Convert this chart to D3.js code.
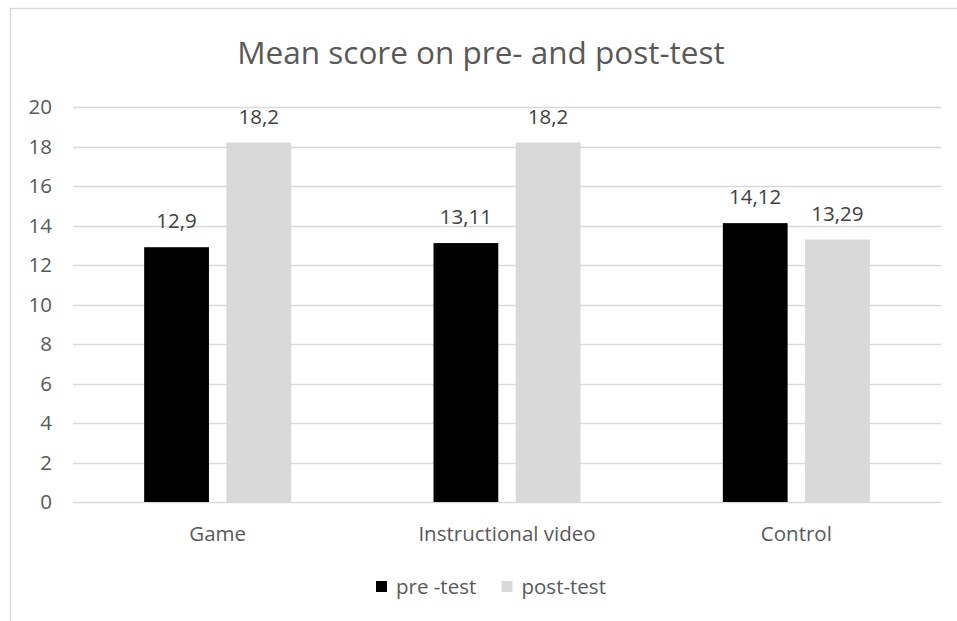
<!DOCTYPE html>
<html>
<head>
<meta charset="utf-8">
<script src="https://cdn.jsdelivr.net/npm/d3@7"></script>
<style>
  html, body { margin: 0; padding: 0; background: #fff; }
  svg { display: block; }
  text { font-family: "Open Sans", "Noto Sans", sans-serif; }
</style>
</head>
<body>
<svg id="chart" width="957" height="621"></svg>
<script>
// Data
const categories = ["Game", "Instructional video", "Control"];
const seriesNames = ["pre -test", "post-test"];
const preTest = [12.9, 13.11, 14.12];
const postTest = [18.2, 18.2, 13.29];
const yTicks = [0, 2, 4, 6, 8, 10, 12, 14, 16, 18, 20];
const titleText = "Mean score on pre- and post-test";

const seriesColors = ["#000000", "#d9d9d9"];
const gridColor = "#d9d9d9";
const labelSize = "20.5px";

const svg = d3.select("#chart");
const W = 957, H = 621;

// chart frame (runs off the right and bottom edges)
svg.append("rect")
  .attr("x", 10.5).attr("y", 8.5)
  .attr("width", W + 20).attr("height", H + 20)
  .attr("fill", "#fff")
  .attr("stroke", "#d9d9d9")
  .attr("stroke-width", 1.5);

const plot = { left: 73, right: 941, top: 107, bottom: 502 };

const y = d3.scaleLinear().domain([0, 20]).range([plot.bottom, plot.top]);
const x0 = d3.scaleBand().domain(categories).range([plot.left, plot.right]).padding(0);
const groupW = x0.bandwidth() * 0.508;
const x1 = d3.scaleBand().domain(seriesNames).range([0, groupW]).paddingInner(0.212).paddingOuter(0);

// gridlines
svg.append("g")
  .selectAll("line")
  .data(yTicks)
  .join("line")
  .attr("x1", plot.left).attr("x2", plot.right)
  .attr("y1", d => Math.round(y(d)) + 0.5)
  .attr("y2", d => Math.round(y(d)) + 0.5)
  .attr("stroke", gridColor)
  .attr("stroke-width", 1.5);

// y axis labels
const yAxis = d3.axisLeft(y).tickValues(yTicks).tickSize(0).tickPadding(0);
const yg = svg.append("g")
  .attr("transform", `translate(${plot.left - 21},0)`)
  .call(yAxis);
yg.select(".domain").remove();
yg.selectAll("text")
  .attr("fill", "#595959")
  .style("font-size", labelSize)
  .style("font-family", "'Open Sans', sans-serif");

// x axis labels
const xAxis = d3.axisBottom(x0).tickSize(0).tickPadding(0);
const xg = svg.append("g")
  .attr("transform", `translate(0,${plot.bottom + 24})`)
  .call(xAxis);
xg.select(".domain").remove();
xg.selectAll("text")
  .attr("fill", "#595959")
  .attr("dy", "0.71em")
  .style("font-size", labelSize)
  .style("font-family", "'Open Sans', sans-serif");

// bars
const rows = categories.map((c, i) => ({ cat: c, values: [preTest[i], postTest[i]] }));
const groups = svg.append("g")
  .selectAll("g")
  .data(rows)
  .join("g")
  .attr("transform", d => `translate(${x0(d.cat) + (x0.bandwidth() - groupW) / 2},0)`);

groups.selectAll("rect")
  .data(d => d.values.map((v, j) => ({ name: seriesNames[j], v, j })))
  .join("rect")
  .attr("x", d => x1(d.name))
  .attr("width", x1.bandwidth())
  .attr("y", d => y(d.v))
  .attr("height", d => y(0) - y(d.v))
  .attr("fill", d => seriesColors[d.j]);

// value labels
const fmt = v => String(v).replace(".", ",");
groups.selectAll("text.val")
  .data(d => d.values.map((v, j) => ({ name: seriesNames[j], v, j })))
  .join("text")
  .attr("class", "val")
  .attr("x", d => x1(d.name) + x1.bandwidth() / 2)
  .attr("y", d => y(d.v) - 19)
  .attr("text-anchor", "middle")
  .attr("fill", "#404040")
  .style("font-size", labelSize)
  .text(d => fmt(d.v));

// title
svg.append("text")
  .attr("x", 481)
  .attr("y", 64)
  .attr("text-anchor", "middle")
  .attr("fill", "#595959")
  .style("font-size", "31.5px")
  .text(titleText);

// legend
const legendItems = [
  { name: seriesNames[0], color: seriesColors[0], x: 376 },
  { name: seriesNames[1], color: seriesColors[1], x: 501.5 }
];
const lg = svg.append("g");
legendItems.forEach(it => {
  lg.append("rect")
    .attr("x", it.x).attr("y", 581)
    .attr("width", 11).attr("height", 11)
    .attr("fill", it.color);
  lg.append("text")
    .attr("x", it.x + 20)
    .attr("y", 593.5)
    .attr("fill", "#595959")
    .style("font-size", labelSize)
    .text(it.name);
});
</script>
</body>
</html>
